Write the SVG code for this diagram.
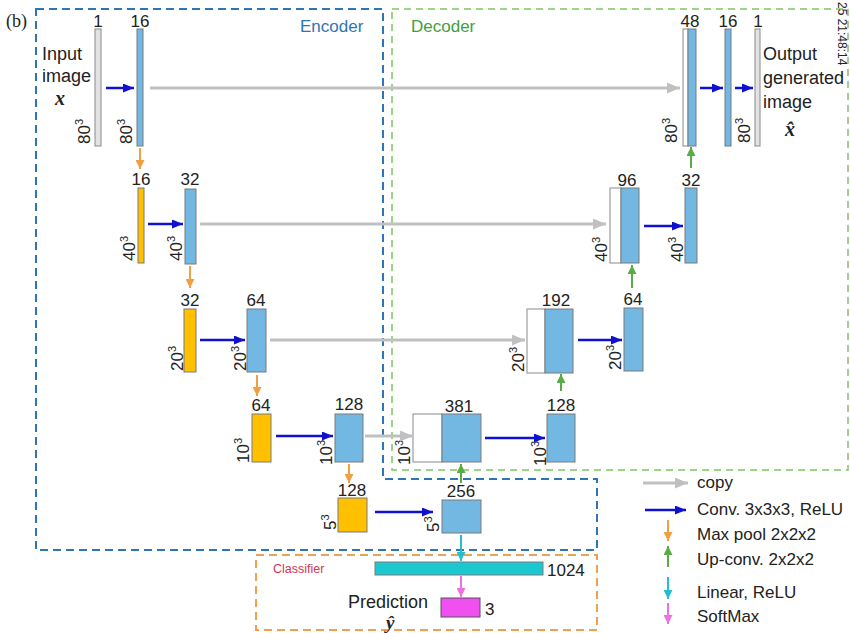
<svg xmlns="http://www.w3.org/2000/svg" width="850" height="633" viewBox="0 0 850 633">
<defs>
<marker id="hBlue" markerUnits="userSpaceOnUse" markerWidth="11" markerHeight="9" refX="11" refY="4.5" orient="auto"><path d="M0,0 L11,4.5 L0,9 Z" fill="#1010d0"/></marker>
<marker id="hGray" markerUnits="userSpaceOnUse" markerWidth="13" markerHeight="11" refX="13" refY="5.5" orient="auto"><path d="M0,0 L13,5.5 L0,11 Z" fill="#c0c0c0"/></marker>
<marker id="hOrange" markerUnits="userSpaceOnUse" markerWidth="9" markerHeight="9" refX="9" refY="4.5" orient="auto"><path d="M0,0 L9,4.5 L0,9 Z" fill="#f0a040"/></marker>
<marker id="hGreen" markerUnits="userSpaceOnUse" markerWidth="9" markerHeight="9" refX="9" refY="4.5" orient="auto"><path d="M0,0 L9,4.5 L0,9 Z" fill="#5aaa46"/></marker>
<marker id="hCyan" markerUnits="userSpaceOnUse" markerWidth="9" markerHeight="9" refX="9" refY="4.5" orient="auto"><path d="M0,0 L9,4.5 L0,9 Z" fill="#22bfd0"/></marker>
<marker id="hMag" markerUnits="userSpaceOnUse" markerWidth="9" markerHeight="9" refX="9" refY="4.5" orient="auto"><path d="M0,0 L9,4.5 L0,9 Z" fill="#f070e0"/></marker>
</defs>
<style>
text{font-family:"Liberation Sans",Arial,sans-serif;fill:#222}
.n{font-size:17px;text-anchor:middle}
.r{font-size:17px}
.s{font-size:11px}
.lg{font-size:17px}
.bl{fill:#72b8e2;stroke:#7a7a7a;stroke-width:1}
.or{fill:#ffc000;stroke:#7a7a7a;stroke-width:1}
.gr{fill:#e2e2e2;stroke:#8a8a8a;stroke-width:1}
.wh{fill:#ffffff;stroke:#8a8a8a;stroke-width:1}
.cb{fill:#1cc8d0;stroke:#7a7a7a;stroke-width:1}
.mg{fill:#f050f0;stroke:#555;stroke-width:1}
.cv{stroke:#1010d0;stroke-width:2.5;fill:none;marker-end:url(#hBlue)}
.cp{stroke:#c0c0c0;stroke-width:3;fill:none;marker-end:url(#hGray)}
.mp{stroke:#f0a040;stroke-width:2;fill:none;marker-end:url(#hOrange)}
.up{stroke:#5aaa46;stroke-width:2;fill:none;marker-end:url(#hGreen)}
.ln{stroke:#22bfd0;stroke-width:2;fill:none;marker-end:url(#hCyan)}
.sm{stroke:#f070e0;stroke-width:2;fill:none;marker-end:url(#hMag)}
.math{font-family:"Liberation Serif","DejaVu Serif",serif;font-style:italic;font-weight:bold;font-size:20px}
</style>

<!-- regions -->
<g id="regions">
<path d="M36,9 H383 V479 H597 V550 H36 Z" fill="none" stroke="#2e75b6" stroke-width="2" stroke-dasharray="8,5"/>
<path d="M392,9 H848 V470 H392 Z" fill="none" stroke="#7cc864" stroke-width="1.5" stroke-dasharray="7,5"/>
<path d="M256,555 H597 V630 H256 Z" fill="none" stroke="#f0a050" stroke-width="2" stroke-dasharray="8,5"/>
<text x="300" y="32" style="font-size:17px;fill:#2e75b6">Encoder</text>
<text x="411" y="32" style="font-size:17px;fill:#3fa03f">Decoder</text>
<text x="273" y="573" style="font-size:12.5px;fill:#d2364f">Classifier</text>
<text x="6" y="27" style="font-family:'Liberation Serif',serif;font-size:18px">(b)</text>
<text transform="translate(838,2) rotate(90)" style="font-size:12px">25 21:48:14</text>
</g>

<!-- Level 1 -->
<g id="input">
<rect class="gr" x="95" y="29" width="6" height="117"/>
<text class="n" x="98" y="27">1</text>
<text transform="translate(90,144) rotate(-90)" class="r">80<tspan class="s" dy="-7">3</tspan></text>
<text x="42" y="60" style="font-size:18px">Input</text>
<text x="42" y="82" style="font-size:18px">image</text>
<text x="55" y="105" class="math">x</text>
</g>
<g id="enc1">
<rect class="bl" x="137" y="29" width="6" height="117"/>
<text class="n" x="140" y="27">16</text>
<text transform="translate(132,144) rotate(-90)" class="r">80<tspan class="s" dy="-7">3</tspan></text>
</g>
<g id="dec1cat">
<rect class="wh" x="683" y="29" width="5" height="117"/>
<rect class="bl" x="688" y="29" width="8" height="117"/>
<text class="n" x="690" y="27">48</text>
<text transform="translate(677,143) rotate(-90)" class="r">80<tspan class="s" dy="-7">3</tspan></text>
</g>
<g id="dec1">
<rect class="bl" x="725" y="29" width="6" height="117"/>
<text class="n" x="728" y="27">16</text>
<text transform="translate(750,143) rotate(-90)" class="r">80<tspan class="s" dy="-7">3</tspan></text>
</g>
<g id="output">
<rect class="gr" x="755" y="29" width="5" height="117"/>
<text class="n" x="758" y="27">1</text>
<text x="763" y="60" style="font-size:18px">Output</text>
<text x="763" y="84" style="font-size:18px">generated</text>
<text x="763" y="108" style="font-size:18px">image</text>
<text x="785" y="136" class="math">x&#x302;</text>
</g>

<!-- Level 2 -->
<g id="pool1">
<rect class="or" x="138" y="188" width="6" height="75"/>
<text class="n" x="141" y="185">16</text>
<text transform="translate(135,261) rotate(-90)" class="r">40<tspan class="s" dy="-7">3</tspan></text>
</g>
<g id="enc2">
<rect class="bl" x="185" y="189" width="11" height="75"/>
<text class="n" x="190" y="185">32</text>
<text transform="translate(182,261) rotate(-90)" class="r">40<tspan class="s" dy="-7">3</tspan></text>
</g>
<g id="dec2cat">
<rect class="wh" x="610" y="188" width="11" height="75"/>
<rect class="bl" x="621" y="188" width="18" height="75"/>
<text class="n" x="627" y="186">96</text>
<text transform="translate(607,262) rotate(-90)" class="r">40<tspan class="s" dy="-7">3</tspan></text>
</g>
<g id="dec2">
<rect class="bl" x="685" y="188" width="12" height="75"/>
<text class="n" x="691" y="186">32</text>
<text transform="translate(683,262) rotate(-90)" class="r">40<tspan class="s" dy="-7">3</tspan></text>
</g>

<!-- Level 3 -->
<g id="pool2">
<rect class="or" x="184" y="309" width="12" height="63"/>
<text class="n" x="190" y="306">32</text>
<text transform="translate(183,371) rotate(-90)" class="r">20<tspan class="s" dy="-7">3</tspan></text>
</g>
<g id="enc3">
<rect class="bl" x="247" y="309" width="19" height="63"/>
<text class="n" x="256" y="306">64</text>
<text transform="translate(246,371) rotate(-90)" class="r">20<tspan class="s" dy="-7">3</tspan></text>
</g>
<g id="dec3cat">
<rect class="wh" x="527" y="309" width="18" height="64"/>
<rect class="bl" x="545" y="309" width="28" height="64"/>
<text class="n" x="556" y="306">192</text>
<text transform="translate(524,372) rotate(-90)" class="r">20<tspan class="s" dy="-7">3</tspan></text>
</g>
<g id="dec3">
<rect class="bl" x="624" y="308" width="19" height="63"/>
<text class="n" x="633" y="305">64</text>
<text transform="translate(621,370) rotate(-90)" class="r">20<tspan class="s" dy="-7">3</tspan></text>
</g>

<!-- Level 4 -->
<g id="pool3">
<rect class="or" x="252" y="414" width="19" height="48"/>
<text class="n" x="261" y="411">64</text>
<text transform="translate(249,463) rotate(-90)" class="r">10<tspan class="s" dy="-7">3</tspan></text>
</g>
<g id="enc4">
<rect class="bl" x="335" y="414" width="28" height="48"/>
<text class="n" x="349" y="410">128</text>
<text transform="translate(332,465) rotate(-90)" class="r">10<tspan class="s" dy="-7">3</tspan></text>
</g>
<g id="dec4cat">
<rect class="wh" x="413" y="414" width="29" height="48"/>
<rect class="bl" x="442" y="414" width="39" height="48"/>
<text class="n" x="459" y="412">381</text>
<text transform="translate(410,465) rotate(-90)" class="r">10<tspan class="s" dy="-7">3</tspan></text>
</g>
<g id="dec4">
<rect class="bl" x="547" y="414" width="28" height="48"/>
<text class="n" x="561" y="411">128</text>
<text transform="translate(546,466) rotate(-90)" class="r">10<tspan class="s" dy="-7">3</tspan></text>
</g>

<!-- Level 5 -->
<g id="pool4">
<rect class="or" x="338" y="498" width="29" height="34"/>
<text class="n" x="352" y="496">128</text>
<text transform="translate(336,530) rotate(-90)" class="r">5<tspan class="s" dy="-7">3</tspan></text>
</g>
<g id="bottleneck">
<rect class="bl" x="442" y="500" width="39" height="33"/>
<text class="n" x="461" y="497">256</text>
<text transform="translate(439,532) rotate(-90)" class="r">5<tspan class="s" dy="-7">3</tspan></text>
</g>

<!-- Classifier -->
<g id="fc">
<rect class="cb" x="375" y="562" width="168" height="13"/>
<text x="547" y="576" class="r">1024</text>
</g>
<g id="prediction">
<rect class="mg" x="441" y="598" width="39" height="19"/>
<text x="485" y="615" class="r">3</text>
<text x="348" y="608" style="font-size:18px">Prediction</text>
<text x="386" y="629" class="math" style="font-size:19px">&#x177;</text>
</g>

<!-- connectors -->
<g id="connectors">
<line class="cp" x1="150" y1="88" x2="680" y2="88"/>
<line class="cp" x1="200" y1="224" x2="606" y2="224"/>
<line class="cp" x1="270" y1="340" x2="525" y2="340"/>
<line class="cp" x1="365" y1="436" x2="413" y2="436"/>

<line class="cv" x1="106" y1="88" x2="134" y2="88"/>
<line class="cv" x1="700" y1="88" x2="723" y2="88"/>
<line class="cv" x1="735" y1="88" x2="753" y2="88"/>
<line class="cv" x1="148" y1="224" x2="183" y2="224"/>
<line class="cv" x1="644" y1="226" x2="683" y2="226"/>
<line class="cv" x1="200" y1="340" x2="245" y2="340"/>
<line class="cv" x1="578" y1="340" x2="622" y2="340"/>
<line class="cv" x1="276" y1="436" x2="333" y2="436"/>
<line class="cv" x1="485" y1="438" x2="545" y2="438"/>
<line class="cv" x1="375" y1="512" x2="433" y2="512"/>

<line class="mp" x1="140" y1="148" x2="140" y2="169"/>
<line class="mp" x1="190" y1="266" x2="190" y2="288"/>
<line class="mp" x1="257" y1="375" x2="257" y2="396"/>
<line class="mp" x1="349" y1="464" x2="349" y2="483"/>

<line class="up" x1="691" y1="168" x2="691" y2="147"/>
<line class="up" x1="632" y1="288" x2="632" y2="265"/>
<line class="up" x1="561" y1="391" x2="561" y2="374"/>
<line class="up" x1="461" y1="483" x2="461" y2="464"/>

<line class="ln" x1="461" y1="535" x2="461" y2="561"/>
<line class="sm" x1="461" y1="576" x2="461" y2="597"/>
</g>

<!-- legend -->
<g id="legend">
<line class="cp" x1="643" y1="483" x2="688" y2="483"/>
<text x="697" y="488" class="lg">copy</text>
<line class="cv" x1="645" y1="510" x2="686" y2="510"/>
<text x="697" y="515" class="lg">Conv. 3x3x3, ReLU</text>
<line class="mp" x1="668" y1="520" x2="668" y2="541"/>
<text x="697" y="540" class="lg">Max pool 2x2x2</text>
<line class="up" x1="668" y1="567" x2="668" y2="546"/>
<text x="697" y="565" class="lg">Up-conv. 2x2x2</text>
<line class="ln" x1="668" y1="577" x2="668" y2="599"/>
<text x="697" y="598" class="lg">Linear, ReLU</text>
<line class="sm" x1="668" y1="603" x2="668" y2="624"/>
<text x="697" y="622" class="lg">SoftMax</text>
</g>
</svg>
